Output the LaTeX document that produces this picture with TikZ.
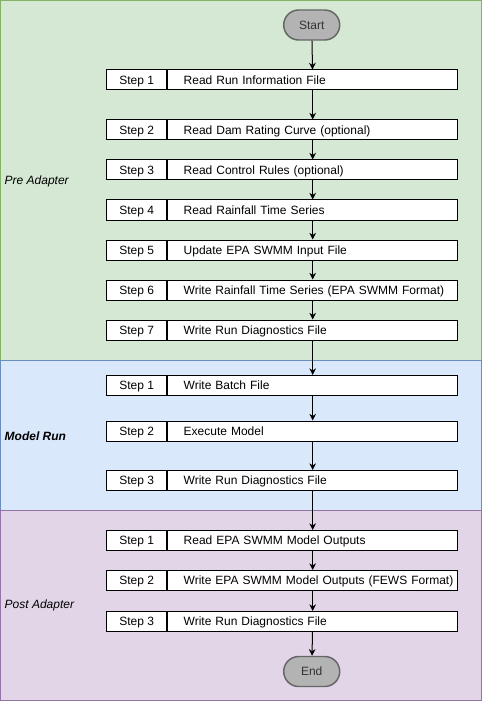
\documentclass[tikz,border=0pt]{standalone}
\usepackage{fontspec}
\setmainfont{Liberation Sans}
\usetikzlibrary{arrows.meta, positioning}
\definecolor{pregreen}{HTML}{D5E8D4}
\definecolor{preedge}{HTML}{82B366}
\definecolor{runblue}{HTML}{DAE8FC}
\definecolor{runedge}{HTML}{6C8EBF}
\definecolor{postpurple}{HTML}{E1D5E7}
\definecolor{postedge}{HTML}{9673A6}
\definecolor{termgray}{HTML}{B3B3B3}
\definecolor{termedge}{HTML}{666666}
\definecolor{termtext}{HTML}{333333}

\begin{document}
\begin{tikzpicture}[x=0.75pt, y=-0.75pt,
  every node/.style={font=\fontsize{9}{11}\selectfont},
  stepnum/.style={draw, fill=white, line width=0.75pt, minimum width=45pt, minimum height=15pt, inner xsep=0pt, inner ysep=0pt, text height=7.6pt, text depth=1.4pt},
  steptext/.style={draw, fill=white, line width=0.75pt, text width=217.5pt, minimum height=15pt, inner xsep=0pt, inner ysep=0pt, text height=7.6pt, text depth=1.4pt, align=left, execute at begin node=\hspace*{12pt}},
  terminal/.style={draw=termedge, fill=termgray, line width=1.1pt, rounded corners=11.25pt, minimum width=42pt, minimum height=22.5pt, text=termtext},
  flow/.style={-{Stealth[length=5pt, width=5pt]}, line width=0.75pt},
  phase/.style={anchor=west, font=\fontsize{9}{11}\selectfont\itshape}]
  \useasboundingbox (0,0) rectangle (482,702);

  % Phase panels
  \draw[draw=preedge, fill=pregreen, line width=0.75pt] (0.5,0.5) rectangle (481.5,360.5);
  \draw[draw=runedge, fill=runblue, line width=0.75pt] (0.5,360.5) rectangle (481.5,510.5);
  \draw[draw=postedge, fill=postpurple, line width=0.75pt] (0.5,510.5) rectangle (481.5,700.5);

  \node[phase] (prelabel) at (0,181) {Pre Adapter};
  \node[phase, font=\fontsize{9}{11}\selectfont\bfseries\itshape] (runlabel) at (0,436) {Model Run};
  \node[phase] (postlabel) at (0,605) {Post Adapter};

  % Pre adapter steps
  \node[terminal] (start) at (311.7,25) {Start};
  \node[stepnum] (pre1) at (136.7,80) {Step 1};
  \node[steptext, right=0pt of pre1] (pre1t) {Read Run Information File};
  \node[stepnum] (pre2) at (136.7,130) {Step 2};
  \node[steptext, right=0pt of pre2] (pre2t) {Read Dam Rating Curve (optional)};
  \node[stepnum] (pre3) at (136.7,170) {Step 3};
  \node[steptext, right=0pt of pre3] (pre3t) {Read Control Rules (optional)};
  \node[stepnum] (pre4) at (136.7,210) {Step 4};
  \node[steptext, right=0pt of pre4] (pre4t) {Read Rainfall Time Series};
  \node[stepnum] (pre5) at (136.7,250) {Step 5};
  \node[steptext, right=0pt of pre5] (pre5t) {Update EPA SWMM Input File};
  \node[stepnum] (pre6) at (136.7,290) {Step 6};
  \node[steptext, right=0pt of pre6] (pre6t) {Write Rainfall Time Series (EPA SWMM Format)};
  \node[stepnum] (pre7) at (136.7,330) {Step 7};
  \node[steptext, right=0pt of pre7] (pre7t) {Write Run Diagnostics File};

  % Model run steps
  \node[stepnum] (run1) at (136.7,385.5) {Step 1};
  \node[steptext, right=0pt of run1] (run1t) {Write Batch File};
  \node[stepnum] (run2) at (136.7,431) {Step 2};
  \node[steptext, right=0pt of run2] (run2t) {Execute Model};
  \node[stepnum] (run3) at (136.7,480.5) {Step 3};
  \node[steptext, right=0pt of run3] (run3t) {Write Run Diagnostics File};

  % Post adapter steps
  \node[stepnum] (post1) at (136.7,540.5) {Step 1};
  \node[steptext, right=0pt of post1] (post1t) {Read EPA SWMM Model Outputs};
  \node[stepnum] (post2) at (136.7,580.5) {Step 2};
  \node[steptext, right=0pt of post2] (post2t) {Write EPA SWMM Model Outputs (FEWS Format)};
  \node[stepnum] (post3) at (136.7,621.5) {Step 3};
  \node[steptext, right=0pt of post3] (post3t) {Write Run Diagnostics File};
  \node[terminal] (end) at (311.7,671.5) {End};

  % Arrows
  \draw[flow] (start) -- (pre1t);
  \draw[flow] (pre1t) -- (pre2t);
  \draw[flow] (pre2t) -- (pre3t);
  \draw[flow] (pre3t) -- (pre4t);
  \draw[flow] (pre4t) -- (pre5t);
  \draw[flow] (pre5t) -- (pre6t);
  \draw[flow] (pre6t) -- (pre7t);
  \draw[flow] (pre7t) -- (run1t);
  \draw[flow] (run1t) -- (run2t);
  \draw[flow] (run2t) -- (run3t);
  \draw[flow] (run3t) -- (post1t);
  \draw[flow] (post1t) -- (post2t);
  \draw[flow] (post2t) -- (post3t);
  \draw[flow] (post3t) -- (end);
\end{tikzpicture}
\end{document}
